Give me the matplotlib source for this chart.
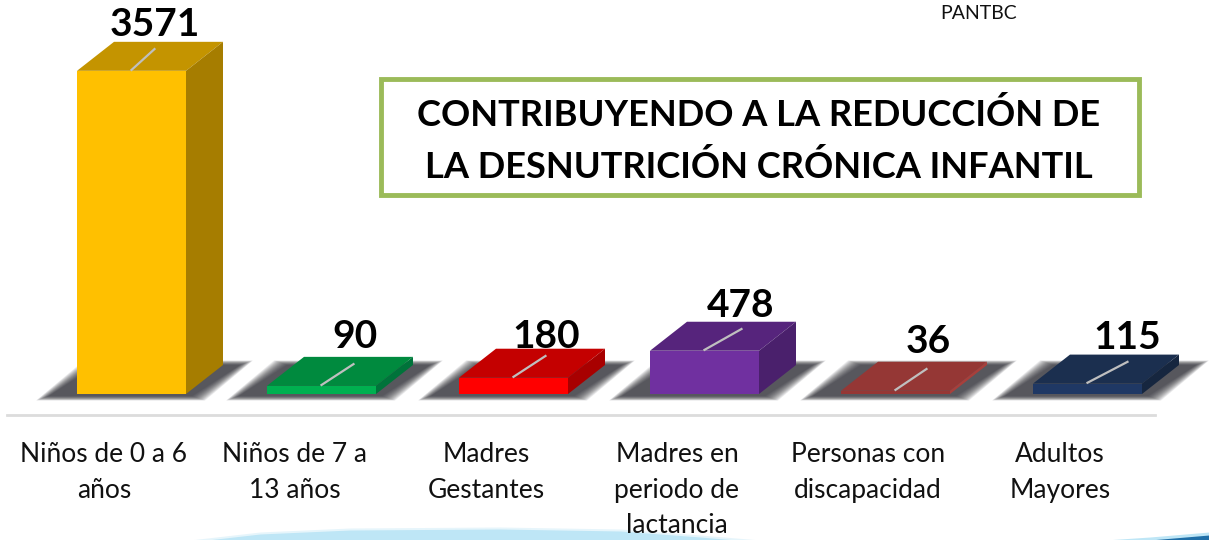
"""Beneficiarios por grupo: 3D-look bar chart on a pixel-sized canvas."""

import matplotlib
matplotlib.use("Agg")
import matplotlib.pyplot as plt
from matplotlib.patches import Polygon, Rectangle
import numpy as np

plt.rcParams["font.family"] = ["Lato", "DejaVu Sans"]

CATEGORIES = ["Niños de 0 a 6\naños", "Niños de 7 a\n13 años", "Madres\nGestantes",
              "Madres en\nperiodo de\nlactancia", "Personas con\ndiscapacidad",
              "Adultos\nMayores"]
VALUES = [3571, 90, 180, 478, 36, 115]
FRONT = ["#FFC000", "#00B050", "#FF0000", "#7030A0", "#953735", "#1F3864"]
TOP = ["#C49400", "#008A3E", "#C40000", "#56247C", "#953735", "#1B2F4F"]
SIDE = ["#A67D00", "#00733A", "#A80000", "#4A206C", "#A83F3B", "#16263F"]

W, H = 1209, 540
BASE_PX = 394
PX_PER_UNIT = 0.0905
BAR_LEFT = [77, 267, 459, 650, 841, 1033]
BAR_W = 109
DX, DY = 37, 29
LABEL_X = [104, 295, 486, 677, 868, 1060]
VALUE_X = [155, 355, 546, 741, 928, 1127]
VALUE_GAP = [0, 3, -5, -1, 3, 0]
LEADER_DX = [23, 32, 32, 37, 31, 40]


def y_val(px):
    # pixel row -> value units
    return (BASE_PX - px) / PX_PER_UNIT


fig = plt.figure(figsize=(W / 100, H / 100), dpi=100)
ax = fig.add_axes([0, 0, 1, 1])
ax.set_xlim(0, W)
ax.set_ylim(y_val(H), y_val(0))
ax.axis("off")

# bottom swoosh, left lens then right corner
lens_x = np.array([190, 260, 350, 500, 620, 700, 760])
lens_top = np.array([541, 533, 529, 528, 530, 536, 541])
ax.fill_between(lens_x, y_val(lens_top - 1), y_val(H + 2), color="#E6F5FB", lw=0, zorder=1)
ax.fill_between(lens_x, y_val(lens_top + 1), y_val(H + 2), color="#BEE6F6", lw=0, zorder=1)
corner_x = np.array([1090, 1150, 1209])
ax.fill_between(corner_x, y_val(np.array([541, 537, 532])), y_val(H + 2),
                color="#BEE6F6", lw=0, zorder=1)
ax.fill_between(corner_x[1:], y_val(np.array([540, 535])), y_val(H + 2),
                color="#1F6FA8", lw=0, zorder=1)

# separator
ax.plot([7, 1155], [y_val(415)] * 2, color="#DCDCDC", lw=2, zorder=1)

for i, v in enumerate(VALUES):
    x0 = BAR_LEFT[i]
    x1 = x0 + BAR_W
    h = v
    d = y_val(BASE_PX - DY)

    # soft shadow, stacked translucent parallelograms
    for grow in np.linspace(13, 0, 18):
        g = y_val(BASE_PX - grow * 0.35)
        ax.add_patch(Polygon([(x0 - 28 - grow, y_val(396) - g),
                              (x1 + 6 + grow, y_val(396) - g),
                              (x1 + 54 + grow, y_val(365) + g),
                              (x0 + 20 - grow, y_val(365) + g)],
                             closed=True, fc="#26262e", ec="none", alpha=0.075,
                             zorder=2))

    ax.add_patch(Rectangle((x0, 0), BAR_W, h, fc=FRONT[i], ec="none", zorder=3))
    ax.add_patch(Polygon([(x0, h), (x1, h), (x1 + DX, h + d), (x0 + DX, h + d)],
                         closed=True, fc=TOP[i], ec="none", zorder=3))
    ax.add_patch(Polygon([(x1, 0), (x1 + DX, d), (x1 + DX, h + d), (x1, h)],
                         closed=True, fc=SIDE[i], ec="none", zorder=3))
    # leader line on top face
    mid = x0 + BAR_W / 2
    ax.plot([mid, mid + LEADER_DX[i]], [h + d * 0.03, h + d * 0.75],
            color="#BFBFBF", lw=1.6, zorder=4)

    ax.text(VALUE_X[i], h + d + y_val(BASE_PX - VALUE_GAP[i]), f"{v}", ha="center",
            va="bottom", fontsize=28, fontweight="bold", color="black", zorder=5)
    ax.text(LABEL_X[i], y_val(442), CATEGORIES[i], ha="center", va="top", fontsize=19,
            color="#111111", linespacing=1.53, zorder=5)

ax.text(979, y_val(14), "PANTBC", ha="center", va="center", fontsize=14, color="#111111")

# title box
ax.add_patch(Rectangle((381, y_val(195)), 758, y_val(79) - y_val(195), fc="white",
                       ec="#9BBB59", lw=3.5, zorder=5))
ax.text(759, y_val(141), "CONTRIBUYENDO A LA REDUCCIÓN DE\nLA DESNUTRICIÓN CRÓNICA INFANTIL",
        ha="center", va="center", fontsize=26.1, fontweight="bold", color="black",
        linespacing=1.65, zorder=6)

fig.savefig("out.png", dpi=100)
